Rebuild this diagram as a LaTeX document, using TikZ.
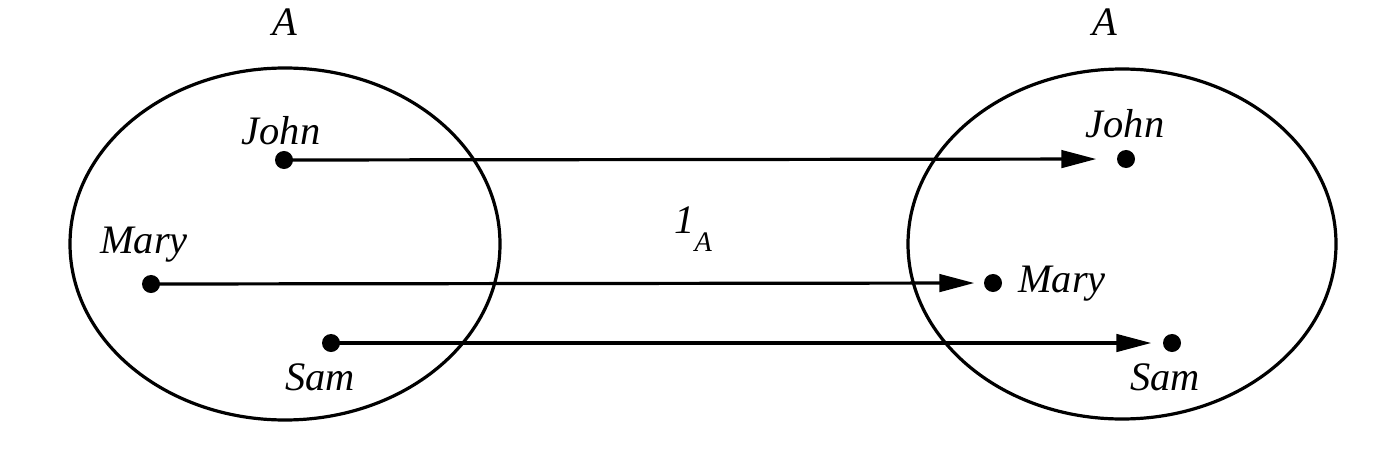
\documentclass[tikz,border=0pt]{standalone}
\usepackage{fontspec}
\setmainfont{Liberation Serif}
\usetikzlibrary{arrows.meta}
\begin{document}
\begin{tikzpicture}[x=0.01cm,y=-0.01cm,
  dot/.style={circle,fill=black,inner sep=0pt,minimum size=0.18cm},
  lbl/.style={anchor=base,inner sep=0pt,font=\fontsize{11.5pt}{13pt}\selectfont\itshape},
  setline/.style={line width=0.032cm},
  maparrow/.style={line width=0.032cm,-{Triangle[length=0.35cm,width=0.175cm]}}]
\useasboundingbox (0,0) rectangle (1398,461);
% sets
\draw[setline] (285,244) ellipse [x radius=215, y radius=176];
\draw[setline] (1122,244) ellipse [x radius=214, y radius=175];
% set names
\node[lbl] (aL) at (285,36) {A};
\node[lbl] (aR) at (1105,36) {A};
% left elements
\node[dot] (lj) at (284,160) {};
\node[dot] (lm) at (151,284) {};
\node[dot] (ls) at (331,343) {};
% right elements
\node[dot] (rj) at (1126,159) {};
\node[dot] (rm) at (993,283) {};
\node[dot] (rs) at (1172,343) {};
% labels
\node[lbl] (tlj) at (281,145) {John};
\node[lbl] (tlm) at (144,253) {Mary};
\node[lbl] (tls) at (320,390) {Sam};
\node[lbl] (trj) at (1125,137) {John};
\node[lbl] (trm) at (1062,292) {Mary};
\node[lbl] (trs) at (1165,390) {Sam};
\node[lbl] (map) at (694,233) {1\textsubscript{\raisebox{-0.9ex}{A}}};
% arrows
\draw[maparrow,shorten >=0.2cm] (lj.center) -- (rj);
\draw[maparrow,shorten >=0.09cm] (lm.center) -- (rm);
\draw[maparrow,shorten >=0.11cm] (ls.center) -- (rs);
\end{tikzpicture}
\end{document}
